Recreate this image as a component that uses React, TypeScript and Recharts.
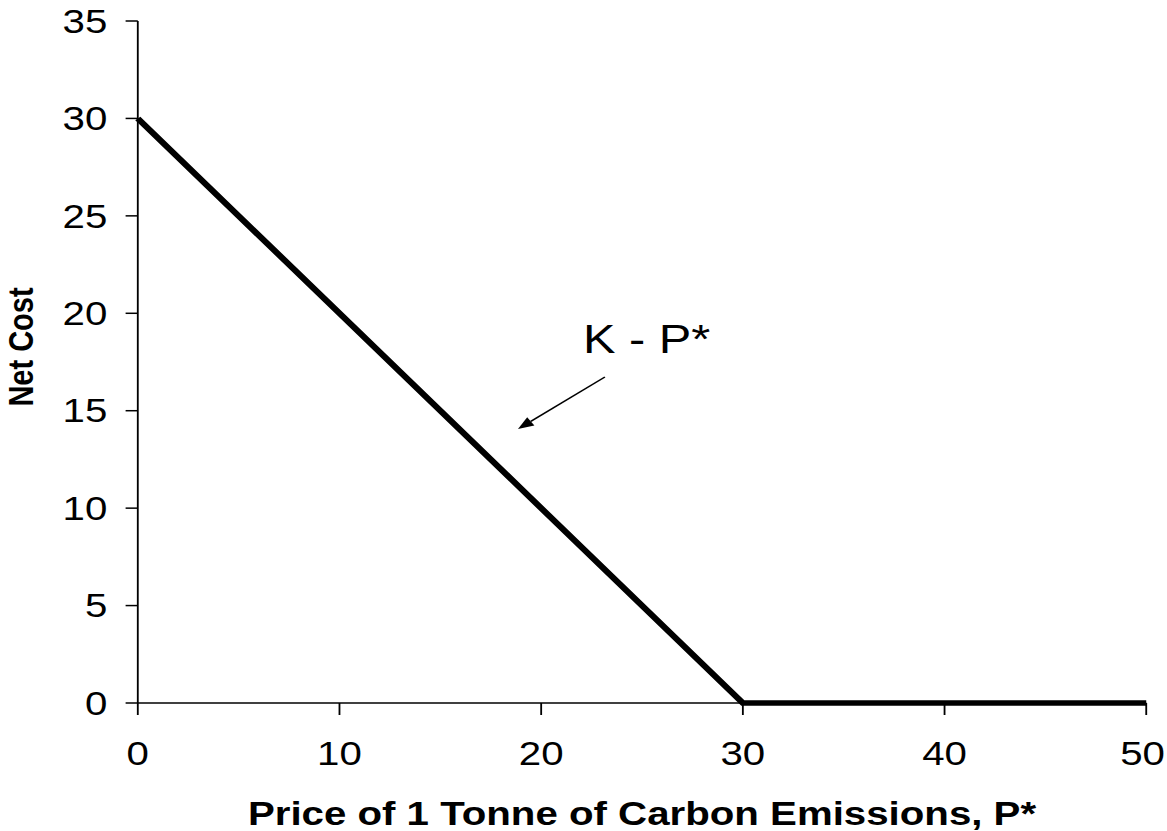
import { LineChart, Line, XAxis, YAxis, ReferenceLine, ReferenceDot, Label } from 'recharts';

// price of carbon (P*) vs net cost
const prices = [0, 30, 50];
const netCost = [30, 0, 0];
const xTicks = [0, 10, 20, 30, 40, 50];
const yTicks = [0, 5, 10, 15, 20, 25, 30, 35];

const annotationText = 'K - P*';
const annotationAt = { x: 22.07, y: 17.96 };
const arrowFrom = { x: 23.16, y: 16.73 };
const arrowTo = { x: 18.85, y: 14.06 };

const data = prices.map((p, i) => ({ x: p, y: netCost[i] }));

const FONT = '"Liberation Sans", Arial, sans-serif';
// the source image is stretched sideways, so the chart is drawn narrow and scaled
const STRETCH = 1.2194;
const W = 962;
const H = 831;

function Arrow(props: any) {
    const { x1, y1, x2, y2 } = props;
    const ang = Math.atan2(y2 - y1, x2 - x1);
    const len = 13;
    const half = 5;
    const bx = x2 - len * Math.cos(ang);
    const by = y2 - len * Math.sin(ang);
    const px = -Math.sin(ang) * half;
    const py = Math.cos(ang) * half;
    return (
        <g>
            <line x1={x1} y1={y1} x2={bx} y2={by} stroke="#000" strokeWidth={1.5} />
            <polygon points={`${x2},${y2} ${bx + px},${by + py} ${bx - px},${by - py}`} fill="#000" />
        </g>
    );
}

function AnnotationText(props: any) {
    const { cx, cy } = props;
    return (
        <text x={cx} y={cy} fontFamily={FONT} fontSize={40} fill="#000" textAnchor="start">
            {annotationText}
        </text>
    );
}

// last label sits a little inside the edge, as in the source
function XTick(props: any) {
    const { x, y, payload, index, visibleTicksCount } = props;
    const last = index === (visibleTicksCount ?? xTicks.length) - 1;
    return (
        <text x={last ? x - 3 : x} y={y} dy="0.71em" textAnchor="middle" fontFamily={FONT} fontSize={33} fill="#000">
            {payload.value}
        </text>
    );
}

export default function App() {
    return (
        <div style={{ position: 'absolute', left: 0, top: 0, width: 1167, height: H, overflow: 'hidden', background: '#fff' }}>
            <div style={{ width: W, height: H, transform: `scaleX(${STRETCH})`, transformOrigin: '0 0' }}>
                <LineChart width={W} height={H} data={data} margin={{ top: 21, right: 22, left: 0, bottom: 0 }}>
                    <XAxis
                        dataKey="x"
                        type="number"
                        domain={[0, 50]}
                        ticks={xTicks}
                        height={128}
                        tickSize={12}
                        tickMargin={27}
                        stroke="#000"
                        strokeWidth={1.5}
                        tick={(p: any) => <XTick {...p} />}
                    >
                        <Label
                            value="Price of 1 Tonne of Carbon Emissions, P*"
                            position="insideBottom"
                            offset={6}
                            style={{ fontFamily: FONT, fontSize: 33, fontWeight: 'bold', fill: '#000' }}
                        />
                    </XAxis>
                    <YAxis
                        type="number"
                        domain={[0, 35]}
                        ticks={yTicks}
                        width={113}
                        tickSize={10}
                        tickMargin={15}
                        stroke="#000"
                        strokeWidth={1.5}
                        tick={{ fontFamily: FONT, fontSize: 33, fill: '#000' }}
                    >
                        <Label
                            content={() => (
                                <text
                                    x={27}
                                    y={347}
                                    transform="rotate(-90, 27, 347)"
                                    textAnchor="middle"
                                    fontFamily={FONT}
                                    fontSize={29}
                                    fontWeight="bold"
                                    fill="#000"
                                >
                                    Net Cost
                                </text>
                            )}
                        />
                    </YAxis>
                    <Line type="linear" dataKey="y" stroke="#000" strokeWidth={5.5} dot={false} isAnimationActive={false} />
                    <ReferenceLine
                        segment={[arrowFrom, arrowTo]}
                        shape={(p: any) => <Arrow {...p} />}
                        ifOverflow="visible"
                    />
                    <ReferenceDot x={annotationAt.x} y={annotationAt.y} r={0} shape={(p: any) => <AnnotationText {...p} />} ifOverflow="visible" />
                </LineChart>
            </div>
        </div>
    );
}
